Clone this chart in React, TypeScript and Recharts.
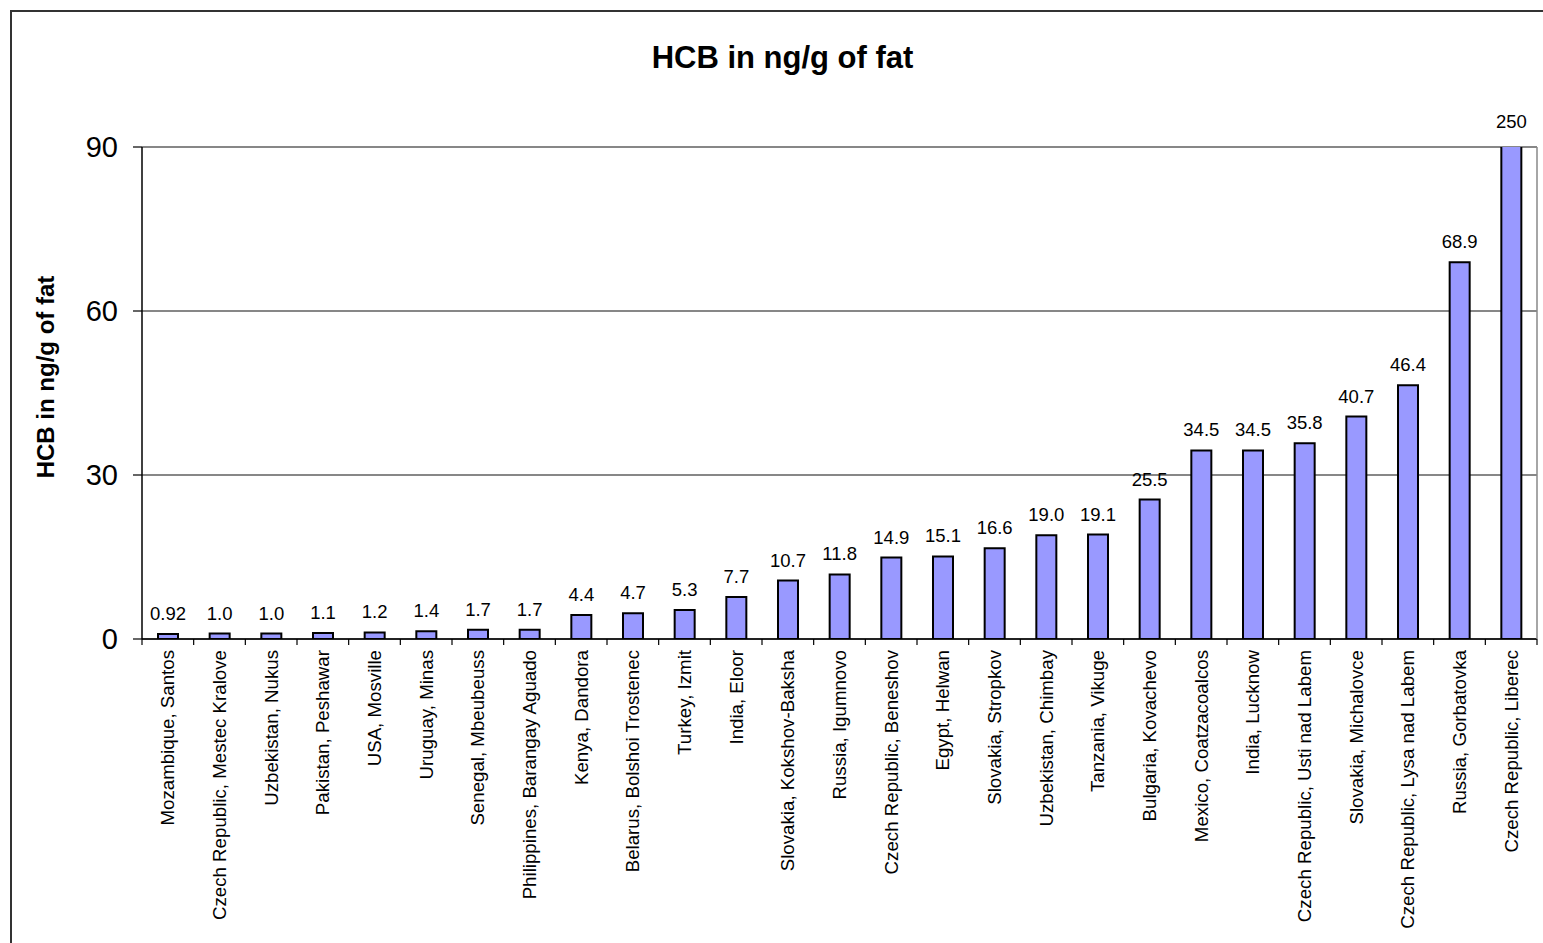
import { BarChart, Bar, XAxis, YAxis, CartesianGrid, LabelList } from 'recharts';

const sites = [
  'Mozambique, Santos',
  'Czech Republic, Mestec Kralove',
  'Uzbekistan, Nukus',
  'Pakistan, Peshawar',
  'USA, Mosville',
  'Uruguay, Minas',
  'Senegal, Mbeubeuss',
  'Philippines, Barangay Aguado',
  'Kenya, Dandora',
  'Belarus, Bolshoi Trostenec',
  'Turkey, Izmit',
  'India, Eloor',
  'Slovakia, Kokshov-Baksha',
  'Russia, Igumnovo',
  'Czech Republic, Beneshov',
  'Egypt, Helwan',
  'Slovakia, Stropkov',
  'Uzbekistan, Chimbay',
  'Tanzania, Vikuge',
  'Bulgaria, Kovachevo',
  'Mexico, Coatzacoalcos',
  'India, Lucknow',
  'Czech Republic, Usti nad Labem',
  'Slovakia, Michalovce',
  'Czech Republic, Lysa nad Labem',
  'Russia, Gorbatovka',
  'Czech Republic, Liberec',
];

const hcb = [
  0.92, 1.0, 1.0, 1.1, 1.2, 1.4, 1.7, 1.7, 4.4, 4.7, 5.3, 7.7, 10.7, 11.8, 14.9,
  15.1, 16.6, 19.0, 19.1, 25.5, 34.5, 34.5, 35.8, 40.7, 46.4, 68.9, 250,
];

const valueLabels = [
  '0.92', '1.0', '1.0', '1.1', '1.2', '1.4', '1.7', '1.7', '4.4', '4.7', '5.3', '7.7',
  '10.7', '11.8', '14.9', '15.1', '16.6', '19.0', '19.1', '25.5', '34.5', '34.5',
  '35.8', '40.7', '46.4', '68.9', '250',
];

const yTicks = [0, 30, 60, 90];

const data = sites.map((site, i) => ({ site, hcb: hcb[i] }));

const W = 1543;
const H = 943;
const TOP = 147;
const LEFT = 142;
const RIGHT = 6;
const X_AXIS_H = 304;
const PLOT_BOTTOM = H - X_AXIS_H;
const BAND = (W - LEFT - RIGHT) / sites.length;
const FONT = 'Arial, "Liberation Sans", sans-serif';

const CategoryTick = (props: any) => {
  const { x, payload, index } = props;
  const left = x - BAND / 2;
  return (
    <g>
      <line x1={left} y1={PLOT_BOTTOM} x2={left} y2={PLOT_BOTTOM + 6} stroke="#000" strokeWidth={1.2} />
      {index === sites.length - 1 && (
        <line x1={left + BAND} y1={PLOT_BOTTOM} x2={left + BAND} y2={PLOT_BOTTOM + 6} stroke="#000" strokeWidth={1.2} />
      )}
      <text
        x={x}
        y={PLOT_BOTTOM + 11}
        transform={`rotate(-90, ${x}, ${PLOT_BOTTOM + 11})`}
        textAnchor="end"
        dy="0.35em"
        fontSize={18.7}
        fontFamily={FONT}
        fill="#000"
      >
        {payload.value}
      </text>
    </g>
  );
};

const ValueLabel = (props: any) => {
  const { x, y, width, index } = props;
  const top = Math.max(y, TOP - 5);
  return (
    <text
      x={x + width / 2}
      y={top - 14}
      textAnchor="middle"
      fontSize={18.5}
      fontFamily={FONT}
      fill="#000"
    >
      {valueLabels[index]}
    </text>
  );
};

export default function App() {
  return (
    <div
      style={{
        position: 'absolute',
        left: 0,
        top: 0,
        width: W,
        height: H,
        overflow: 'hidden',
        background: '#fff',
        fontFamily: FONT,
      }}
    >
      <div
        style={{
          position: 'absolute',
          left: 10,
          top: 10,
          width: W + 100,
          height: H + 100,
          border: '2px solid #333',
          boxSizing: 'border-box',
        }}
      />
      <div
        style={{
          position: 'absolute',
          left: 0,
          width: W,
          top: 38,
          textAlign: 'center',
          fontSize: 31,
          fontWeight: 'bold',
          color: '#000',
          lineHeight: '40px',
          paddingLeft: 22,
          boxSizing: 'border-box',
        }}
      >
        HCB in ng/g of fat
      </div>
      <div
        style={{
          position: 'absolute',
          left: 46 - 150,
          top: 377 - 15,
          width: 300,
          height: 30,
          lineHeight: '30px',
          textAlign: 'center',
          fontSize: 24,
          fontWeight: 'bold',
          color: '#000',
          transform: 'rotate(-90deg)',
        }}
      >
        HCB in ng/g of fat
      </div>
      <div style={{ position: 'absolute', left: 0, top: 0 }}>
        <BarChart
          width={W}
          height={H}
          data={data}
          margin={{ top: TOP, right: RIGHT - 1, bottom: 0, left: 0 }}
          barSize={20}
        >
          <CartesianGrid vertical={false} stroke="#111" strokeWidth={1.2} />
          <XAxis
            dataKey="site"
            interval={0}
            height={X_AXIS_H}
            tickLine={false}
            axisLine={{ stroke: '#000', strokeWidth: 1.5 }}
            tick={<CategoryTick />}
          />
          <YAxis
            domain={[0, 90]}
            ticks={yTicks}
            allowDataOverflow
            width={LEFT}
            tickSize={9}
            tickMargin={15}
            axisLine={{ stroke: '#000', strokeWidth: 1.5 }}
            tickLine={{ stroke: '#000', strokeWidth: 1.2 }}
            tick={{ fontSize: 29, fill: '#000', fontFamily: FONT }}
          />
          <YAxis
            yAxisId="frame"
            orientation="right"
            width={1}
            domain={[0, 90]}
            tick={false}
            tickLine={false}
            axisLine={{ stroke: '#888', strokeWidth: 1.5 }}
          />
          <Bar dataKey="hcb" fill="#9999FF" stroke="#000" strokeWidth={2} isAnimationActive={false}>
            <LabelList dataKey="hcb" content={<ValueLabel />} />
          </Bar>
        </BarChart>
      </div>
    </div>
  );
}
